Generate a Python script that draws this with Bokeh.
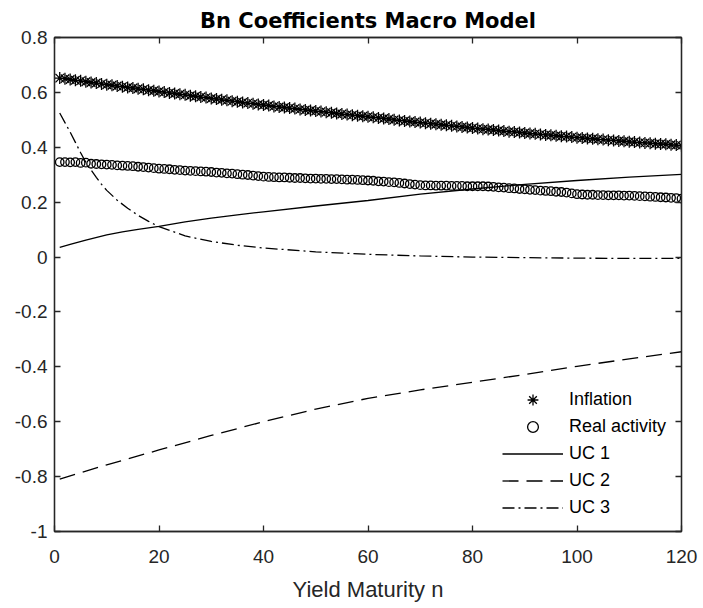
from bokeh.plotting import figure
from bokeh.models import Range1d, LinearAxis, FixedTicker, CustomJSTickFormatter, Legend, LegendItem
from bokeh.embed import file_html
from bokeh.resources import INLINE

# ---------------- data ----------------
maturity = list(range(1, 121))

inflation = [
    0.652, 0.650, 0.647, 0.644, 0.642, 0.639, 0.636, 0.634, 0.631, 0.628,
    0.626, 0.623, 0.621, 0.618, 0.616, 0.613, 0.611, 0.608, 0.606, 0.603,
    0.601, 0.598, 0.596, 0.593, 0.591, 0.588, 0.586, 0.583, 0.581, 0.578,
    0.576, 0.573, 0.571, 0.568, 0.566, 0.563, 0.561, 0.559, 0.556, 0.554,
    0.552, 0.549, 0.547, 0.545, 0.543, 0.541, 0.538, 0.536, 0.534, 0.532,
    0.530, 0.528, 0.526, 0.523, 0.521, 0.519, 0.517, 0.515, 0.513, 0.511,
    0.509, 0.507, 0.505, 0.503, 0.500, 0.498, 0.496, 0.494, 0.492, 0.490,
    0.488, 0.486, 0.484, 0.482, 0.480, 0.478, 0.476, 0.474, 0.472, 0.470,
    0.468, 0.466, 0.465, 0.463, 0.461, 0.459, 0.457, 0.456, 0.454, 0.452,
    0.450, 0.449, 0.447, 0.445, 0.444, 0.442, 0.440, 0.439, 0.437, 0.435,
    0.434, 0.432, 0.431, 0.429, 0.428, 0.426, 0.425, 0.423, 0.422, 0.420,
    0.419, 0.417, 0.416, 0.415, 0.413, 0.412, 0.411, 0.409, 0.408, 0.406,
]

real_activity = [
    0.346, 0.346, 0.345, 0.346, 0.343, 0.344, 0.340, 0.339, 0.338, 0.337,
    0.336, 0.334, 0.333, 0.332, 0.331, 0.329, 0.328, 0.326, 0.324, 0.322,
    0.321, 0.320, 0.318, 0.317, 0.315, 0.314, 0.313, 0.312, 0.311, 0.310,
    0.308, 0.307, 0.305, 0.304, 0.302, 0.300, 0.299, 0.297, 0.295, 0.293,
    0.292, 0.291, 0.290, 0.290, 0.289, 0.288, 0.288, 0.287, 0.286, 0.286,
    0.285, 0.285, 0.284, 0.284, 0.283, 0.282, 0.282, 0.281, 0.280, 0.279,
    0.278, 0.276, 0.275, 0.273, 0.272, 0.270, 0.268, 0.266, 0.264, 0.262,
    0.261, 0.261, 0.260, 0.260, 0.260, 0.259, 0.259, 0.259, 0.258, 0.258,
    0.258, 0.258, 0.257, 0.256, 0.254, 0.253, 0.251, 0.250, 0.248, 0.247,
    0.245, 0.244, 0.242, 0.241, 0.240, 0.238, 0.237, 0.235, 0.232, 0.229,
    0.228, 0.227, 0.227, 0.226, 0.226, 0.225, 0.225, 0.225, 0.224, 0.224,
    0.223, 0.222, 0.221, 0.220, 0.219, 0.218, 0.217, 0.216, 0.215, 0.213,
]

uc1_n = [1, 3, 6, 10, 13, 16, 20, 25, 30, 35, 40, 50, 60, 70, 80, 90, 100, 110, 120]
uc1 = [0.035, 0.046, 0.062, 0.081, 0.092, 0.101, 0.112, 0.128, 0.142, 0.154,
       0.165, 0.186, 0.206, 0.229, 0.248, 0.265, 0.279, 0.291, 0.301]

uc2_n = [1, 10, 20, 30, 40, 50, 60, 70, 80, 90, 100, 110, 120]
uc2 = [-0.809, -0.757, -0.703, -0.650, -0.600, -0.554, -0.515, -0.484,
       -0.456, -0.428, -0.398, -0.371, -0.345]

uc3_n = [1, 2, 3, 4, 5, 6, 7, 8, 9, 10, 12, 14, 16, 18, 20, 25, 30, 35, 40,
         50, 60, 70, 80, 90, 100, 110, 120]
uc3 = [0.525, 0.490, 0.455, 0.418, 0.380, 0.345, 0.317, 0.290, 0.265, 0.243,
       0.207, 0.178, 0.152, 0.130, 0.111, 0.077, 0.057, 0.043, 0.033,
       0.019, 0.010, 0.004, 0.000, -0.002, -0.004, -0.005, -0.005]

x_ticks = [0, 20, 40, 60, 80, 100, 120]
y_ticks = [-1.0, -0.8, -0.6, -0.4, -0.2, 0.0, 0.2, 0.4, 0.6, 0.8]

# ---------------- figure ----------------
AX = "#262626"
FONT = "Liberation Sans"

p = figure(width=703, height=608, output_backend="svg", toolbar_location=None,
           x_range=Range1d(0, 120), y_range=Range1d(-1, 0.8),
           min_border_left=54, min_border_right=22, min_border_top=37,
           min_border_bottom=77, title="Bn Coefficients Macro Model")
p.title.align = "center"
p.title.text_font = "DejaVu Sans"
p.title.text_font_style = "bold"
p.title.text_font_size = "21px"
p.title.text_color = "#000000"
p.title.standoff = 10
p.title.offset = 11

p.outline_line_color = AX
p.outline_line_width = 1.3
p.xgrid.visible = False
p.ygrid.visible = False
p.background_fill_color = "white"
p.border_fill_color = "white"

yfmt = CustomJSTickFormatter(code="""
if (Math.abs(tick) < 1e-9) { return "0"; }
var s = tick.toFixed(1);
if (s.endsWith(".0")) { s = s.slice(0, -2); }
return s;
""")

def style_axis(ax, labels=True):
    ax.axis_line_color = AX
    ax.axis_line_width = 1.3
    ax.major_tick_line_color = AX
    ax.major_tick_line_width = 1.3
    ax.major_tick_in = 6
    ax.major_tick_out = 0
    ax.minor_tick_line_color = None
    ax.major_label_text_font = FONT
    ax.major_label_text_font_size = "19px"
    ax.major_label_text_color = AX
    if not labels:
        ax.major_label_text_font_size = "0px"
        ax.major_label_text_color = None

xa = p.xaxis[0]
xa.ticker = FixedTicker(ticks=x_ticks)
style_axis(xa)
xa.major_label_standoff = 18
xa.axis_label = "Yield Maturity n"
xa.axis_label_text_font = FONT
xa.axis_label_text_font_size = "22px"
xa.axis_label_text_font_style = "normal"
xa.axis_label_text_color = AX
xa.axis_label_standoff = 11

ya = p.yaxis[0]
ya.ticker = FixedTicker(ticks=y_ticks)
ya.formatter = yfmt
style_axis(ya)
ya.major_label_standoff = 7

top = LinearAxis(ticker=FixedTicker(ticks=x_ticks))
style_axis(top, labels=False)
p.add_layout(top, "above")
right = LinearAxis(ticker=FixedTicker(ticks=y_ticks))
style_axis(right, labels=False)
p.add_layout(right, "right")

# ---------------- glyphs ----------------
r_inf = p.scatter(maturity, inflation, marker="asterisk", size=12,
                  line_color="black", line_width=1.3)
r_ra = p.scatter(maturity, real_activity, marker="circle", size=8.5,
                 line_color="black", fill_color=None, line_width=1.3)
r1 = p.line(uc1_n, uc1, line_color="black", line_width=1.3)
r2 = p.line(uc2_n, uc2, line_color="black", line_width=1.3, line_dash="16 8")
r3 = p.line(uc3_n, uc3, line_color="black", line_width=1.3, line_dash="12 4 2 4")

legend = Legend(items=[
    LegendItem(label="Inflation", renderers=[r_inf]),
    LegendItem(label="Real activity", renderers=[r_ra]),
    LegendItem(label="UC 1", renderers=[r1]),
    LegendItem(label="UC 2", renderers=[r2]),
    LegendItem(label="UC 3", renderers=[r3]),
], location=(448, 10))
legend.border_line_color = None
legend.background_fill_alpha = 0
legend.padding = 0
legend.margin = 0
legend.spacing = 0
legend.glyph_width = 61
legend.glyph_height = 27
legend.label_height = 27
legend.label_standoff = 6
legend.label_text_font = FONT
legend.label_text_font_size = "18px"
legend.label_text_color = "#000000"
p.add_layout(legend, "center")

open("out.html", "w").write(file_html(p, INLINE))
